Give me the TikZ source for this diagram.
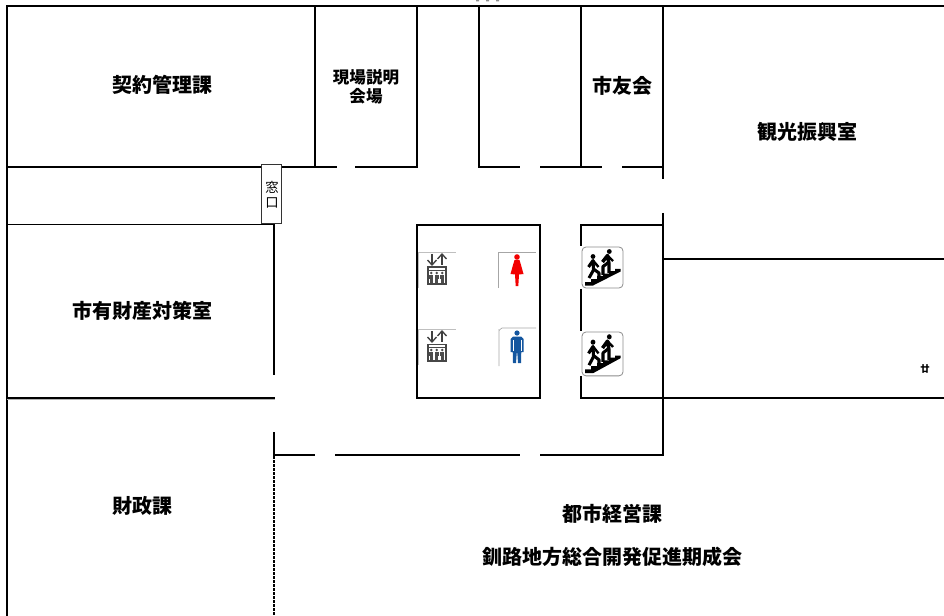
\documentclass[tikz,border=0pt]{standalone}
\usepackage{fontspec}
\newfontfamily\cjk{Noto Sans CJK JP}
\definecolor{manblue}{HTML}{14569F}
\tikzset{
  wall/.style={line width=1.5pt,black,line cap=butt},
  thinwall/.style={line width=.8pt,black},
  room/.style={font=\cjk\bfseries\fontsize{15}{15}\selectfont,inner sep=0pt,text=black},
  roomsmall/.style={font=\cjk\bfseries\fontsize{12.4}{14}\selectfont,inner sep=0pt,align=center,text=black},
  iconedge/.style={line width=.5pt,draw=black!35},
  elev/.pic={
    \draw[iconedge,black!25] (0,36)--(0,0)--(38,0);
    \draw[line width=1.2pt,black!75] (14,2)--(14,13);
    \draw[line width=1.2pt,black!75] (24,3)--(24,13);
    \draw[line width=1pt,black!75] (9.5,8)--(14,13)--(18.5,8);
    \draw[line width=1pt,black!75] (19.5,7)--(24,2)--(28.5,7);
    \fill[black!72] (9,14.5) rectangle (28.5,33);
    \fill[white] (10.8,16.3) rectangle (26.7,31.2);
    \fill[black!72] (10.8,17.8) rectangle (26.7,18.6);
    \foreach \k in {13.2,18.8,24.3}{
      \fill[black!70] (\k,21) circle (1.4);
      \fill[black!70] (\k-2.1,22.5) rectangle (\k+2.1,27);
      \fill[black!70] (\k-1.4,27) rectangle (\k+1.4,31);
    }
  },
  stairicon/.pic={
    \draw[line width=.6pt,draw=black!45,fill=white,rounded corners=3] (0,0) rectangle (41,41);
    \fill[black] (3,38.5)--(3,35)--(9,35)--(9,32)--(15,32)--(15,29)--(21,29)--(21,26.5)--(27,26.5)--(27,24)--(33,24)--(33,22)--(38.5,22)--(38.5,24.5)--(11,38.5)--cycle;
    \fill[black] (11,9.5) circle (2.4);
    \fill[black] (27.3,4.5) circle (2.4);
    \draw[line width=2.3pt,black,line join=round] (6.5,20)--(11,13.5)--(11.5,23)--(7,31);
    \draw[line width=1.8pt,black,line join=round] (11,13.5)--(16.5,20);
    \draw[line width=2.3pt,black,line join=round] (11.5,22)--(17,26)--(17,32);
    \draw[line width=2.6pt,black,line join=round] (20.5,15)--(25.5,8.5)--(27,17)--(27,26);
    \draw[line width=1.8pt,black,line join=round] (25.5,8.5)--(31,14);
    \draw[line width=2.3pt,black,line join=round] (26.5,15.5)--(21,19.5)--(21,28);
  }
}
\begin{document}
\begin{tikzpicture}[x=.75pt,y=-.75pt]
\useasboundingbox (0,0) rectangle (944,616);
% clipped remnant at the top edge
\fill[black!45] (476,0) rectangle (479,1.3) (486,0) rectangle (489,1.3) (496,0) rectangle (499,1.3);
% outer walls
\draw[wall] (7,6)--(944,6);
\draw[wall] (7,5.3)--(7,616);
% top rooms
\draw[wall] (315,6)--(315,167);
\draw[wall] (417,6)--(417,167.7);
\draw[wall] (479,6)--(479,167.7);
\draw[wall] (581,6)--(581,167);
\draw[wall] (663,6)--(663,179);
\draw[wall] (7,167)--(337,167);
\draw[wall] (355,167)--(417.7,167);
\draw[wall] (479,167)--(520,167);
\draw[wall] (540,167)--(602,167);
\draw[wall] (622,167)--(663,167);
% left rooms
\draw[thinwall] (7,224.5)--(274,224.5);
\draw[wall] (274,224)--(274,375);
\draw[thinwall] (7,398)--(275,398);
\draw[black!30,line width=.5pt] (7,399.2)--(275,399.2);
\draw[wall] (274,432)--(274,455.7);
\draw[line width=1pt,black,dash pattern=on 2pt off 1pt] (274,456)--(274,616);
% lower corridor wall
\draw[wall] (274,455)--(315,455);
\draw[wall] (335,455)--(520,455);
\draw[wall] (540,455)--(663.7,455);
% right block
\draw[wall] (663,213)--(663,455);
\draw[wall] (663,259)--(944,259);
\draw[wall] (581,398)--(944,398);
\draw[wall] (580.3,225)--(663,225);
\draw[wall] (581,225)--(581,246);
\draw[wall] (581,289)--(581,331);
\draw[wall] (581,376)--(581,398.7);
% core
\draw[wall] (417,225) rectangle (540,398);
% window
\node[draw=black!80,fill=white,line width=.8pt,minimum width=15pt,minimum height=44.2pt,inner sep=0pt] (window) at (271.7,193.7) {};
\node[font=\cjk\fontsize{10}{10}\selectfont,inner sep=0pt,text=black] (win1) at (272,187.5) {窓};
\node[font=\cjk\fontsize{10}{10}\selectfont,inner sep=0pt,text=black] (win2) at (272,203) {口};
% icons
\pic at (418,252) {elev};
\pic at (418,329) {elev};
\begin{scope}[shift={(498,252)}]
  \draw[iconedge] (0,36)--(0,0)--(38,0);
  \fill[red!95!black] (19,5) circle (2.8);
  \fill[red!95!black] (16.5,8)--(21.5,8)--(23,13)--(25.5,22)--(21,22.5)--(20.3,34)--(17.7,34)--(17,22.5)--(12.5,22)--(15,13)--cycle;
\end{scope}
\begin{scope}[shift={(499,328)}]
  \draw[iconedge] (0,38)--(0,2) to[out=-90,in=180] (3,0)--(37,0);
  \fill[manblue] (18,5) circle (2.6);
  \fill[manblue] (14,8.5)--(22,8.5)--(24.5,11)--(24.5,24)--(22.3,24)--(22.3,23)--(22,35)--(19,35)--(18.3,25)--(17.7,25)--(17,35)--(14,35)--(13.7,23)--(13.7,24)--(11.5,24)--(11.5,11)--cycle;
  \draw[white,line width=.3pt] (13.8,12)--(13.8,23) (22.2,12)--(22.2,23);
\end{scope}
\pic at (582,247) {stairicon};
\pic[yscale=1.07] at (582,332) {stairicon};
% labels
\node[room] (keiyaku) at (162,85) {契約管理課};
\node[roomsmall] (genba) at (366,86.5) {現場説明\\会場};
\node[room] (tomo) at (622,86) {市友会};
\node[room] (kanko) at (807,132) {観光振興室};
\node[room] (yuzai) at (142,311) {市有財産対策室};
\node[room] (zaisei) at (142,506) {財政課};
\node[room] (toshi) at (612,514) {都市経営課};
\node[room] (kushiro) at (612,557) {釧路地方総合開発促進期成会};
\node[font=\cjk\bfseries\fontsize{7}{7}\selectfont,inner sep=0pt,text=black] (mark) at (925,369) {廿};
\end{tikzpicture}
\end{document}
